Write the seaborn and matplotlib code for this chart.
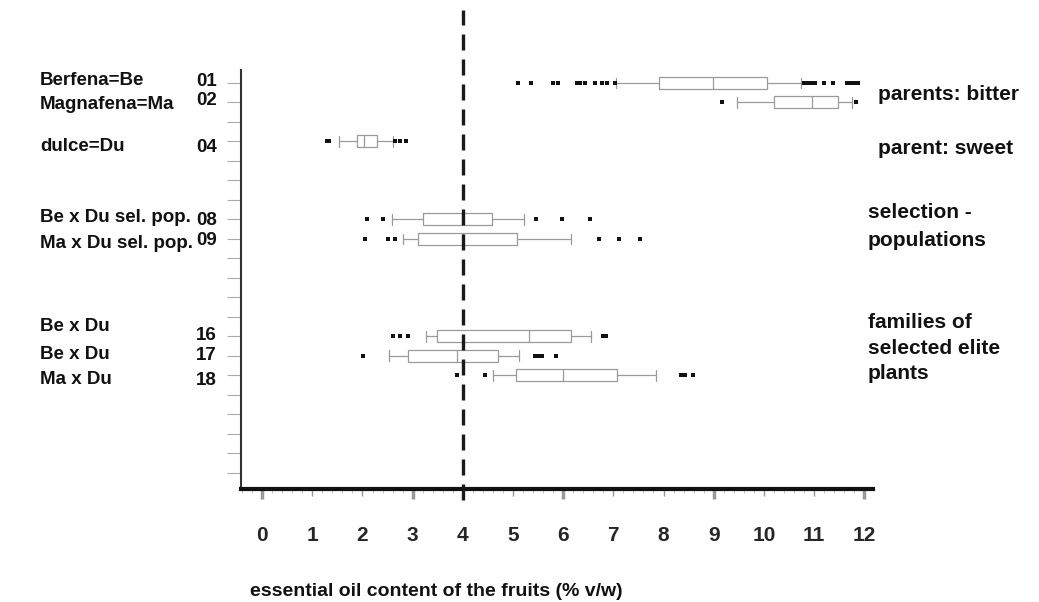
import numpy as np
import pandas as pd
import matplotlib.pyplot as plt
import matplotlib.transforms as mtransforms
import seaborn as sns
from matplotlib.ticker import MultipleLocator

# groups (top to bottom)
codes = ["01", "02", "04", "08", "09", "16", "17", "18"]
names = ["Berfena=Be", "Magnafena=Ma", "dulce=Du", "Be x Du sel. pop.",
         "Ma x Du sel. pop.", "Be x Du", "Be x Du", "Ma x Du"]

# five-number summaries, essential oil content (% v/w)
whislo = [7.05, 9.46, 1.53, 2.59, 2.80, 3.27, 2.53, 4.60]
q1 = [7.91, 10.20, 1.89, 3.20, 3.11, 3.49, 2.91, 5.06]
med = [8.98, 10.96, 2.04, 3.98, 4.00, 5.32, 3.88, 6.00]
q3 = [10.06, 11.48, 2.29, 4.58, 5.08, 6.15, 4.70, 7.07]
whishi = [10.74, 11.75, 2.60, 5.22, 6.16, 6.55, 5.12, 7.85]

# outliers per group
out_01 = [5.10, 5.36, 5.80, 5.90, 6.27, 6.33, 6.43, 6.63, 6.77, 6.87, 7.03,
          10.80, 10.88, 10.95, 11.02, 11.20, 11.37, 11.65, 11.72, 11.80, 11.88]
out_02 = [9.16, 11.83]
out_04 = [1.30, 1.34, 2.65, 2.75, 2.87]
out_08 = [2.09, 2.41, 5.46, 5.98, 6.53]
out_09 = [2.05, 2.51, 2.65, 6.71, 7.11, 7.53]
out_16 = [2.61, 2.75, 2.91, 6.80, 6.85]
out_17 = [2.01, 5.44, 5.52, 5.58, 5.86]
out_18 = [3.88, 4.44, 8.35, 8.43, 8.59]
outliers = [out_01, out_02, out_04, out_08, out_09, out_16, out_17, out_18]

threshold = 4.0
x_ticks = list(range(13))

# layout: slot of each box on the 21-slot y axis
slots = [1, 2, 4, 8, 9, 14, 15, 16]
n_slots = 21

sns.set_style("ticks")
plt.rcParams['font.family'] = ['Liberation Sans', 'DejaVu Sans']
plt.rcParams['font.weight'] = 'bold'

fig = plt.figure(figsize=(10.39, 6.02), dpi=100)
ax = fig.add_axes([0.232, 0.188, 0.608, 0.696])

stats = []
for i in range(len(codes)):
    stats.append(dict(whislo=whislo[i], q1=q1[i], med=med[i], q3=q3[i],
                      whishi=whishi[i], fliers=[]))

edge = '#9a9a9a'
ax.bxp(stats, positions=slots, widths=0.62, orientation='horizontal',
       showfliers=False, patch_artist=True, capwidths=0.55,
       boxprops=dict(facecolor='white', edgecolor=edge, linewidth=0.9),
       medianprops=dict(color=edge, linewidth=0.9),
       whiskerprops=dict(color=edge, linewidth=0.9),
       capprops=dict(color=edge, linewidth=0.9))

out_df = pd.DataFrame({
    'value': [v for grp in outliers for v in grp],
    'slot': [s for s, grp in zip(slots, outliers) for _ in grp],
})
sns.scatterplot(data=out_df, x='value', y='slot', marker='s', s=9,
                color='#111111', edgecolor='none', ax=ax, legend=False, zorder=3)

ax.axvline(threshold, ymin=-0.027, ymax=1.143, clip_on=False, color='#1a1a1a',
           lw=2.4, linestyle=(0, (4.8, 2.7)), zorder=4)

ax.set_xlim(-0.42, 12.17)
ax.set_ylim(n_slots + 0.82, 0.33)
ax.set_xlabel('')
ax.set_ylabel('')

for s in ['top', 'right']:
    ax.spines[s].set_visible(False)
ax.spines['left'].set_linewidth(1.5)
ax.spines['left'].set_color('#333333')
ax.spines['bottom'].set_linewidth(3)
ax.spines['bottom'].set_color('#111111')

ax.set_yticks(range(1, n_slots + 1))
ax.set_yticklabels([])
ax.tick_params(axis='y', length=10, width=0.8, color='#aaaaaa', direction='out')

ax.set_xticks(x_ticks)
ax.set_xticklabels([str(t) for t in x_ticks], fontsize=15, fontweight='bold')
ax.xaxis.set_minor_locator(MultipleLocator(0.2))
ax.tick_params(axis='x', which='major', length=5, width=1, color='#999999', pad=22)
ax.tick_params(axis='x', which='minor', length=3, width=0.6, color='#bbbbbb')
for tick, loc in zip(ax.xaxis.get_major_ticks(), x_ticks):
    if loc % 3 == 0:
        tick.tick1line.set_markeredgewidth(2.5)
        tick.tick1line.set_markersize(7)
        tick.tick1line.set_color('#111111')

# row labels at the left
trans = mtransforms.blended_transform_factory(fig.transFigure, ax.transData)
name_y = [0.90, 2.13, 4.28, 7.92, 9.26, 13.51, 14.95, 16.23]
code_y = [0.95, 1.92, 4.33, 8.08, 9.10, 13.97, 15.0, 16.28]
for nm, y in zip(names, name_y):
    ax.text(40 / 1039, y, nm, transform=trans, ha='left', va='center',
            fontsize=13.5, fontweight='bold', color='#111111')
for cd, y in zip(codes, code_y):
    ax.text(217 / 1039, y, cd, transform=trans, ha='right', va='center',
            fontsize=13.5, fontweight='bold', color='#111111')

# group labels at the right
fig.text(878 / 1039, 1 - 95 / 602, 'parents: bitter', ha='left', va='center',
         fontsize=15, fontweight='bold', color='#111111')
fig.text(878 / 1039, 1 - 149 / 602, 'parent: sweet', ha='left', va='center',
         fontsize=15, fontweight='bold', color='#111111')
fig.text(868 / 1039, 1 - 226 / 602, 'selection -\npopulations', ha='left',
         va='center', fontsize=15, fontweight='bold', color='#111111',
         linespacing=1.6)
fig.text(868 / 1039, 1 - 348 / 602, 'families of\nselected elite\nplants',
         ha='left', va='center', fontsize=15, fontweight='bold',
         color='#111111', linespacing=1.45)

fig.text(436 / 1039, 1 - 592 / 602, 'essential oil content of the fruits (% v/w)',
         ha='center', va='center', fontsize=14, fontweight='bold', color='#111111')

fig.savefig('out.png', dpi=100, facecolor='white')
